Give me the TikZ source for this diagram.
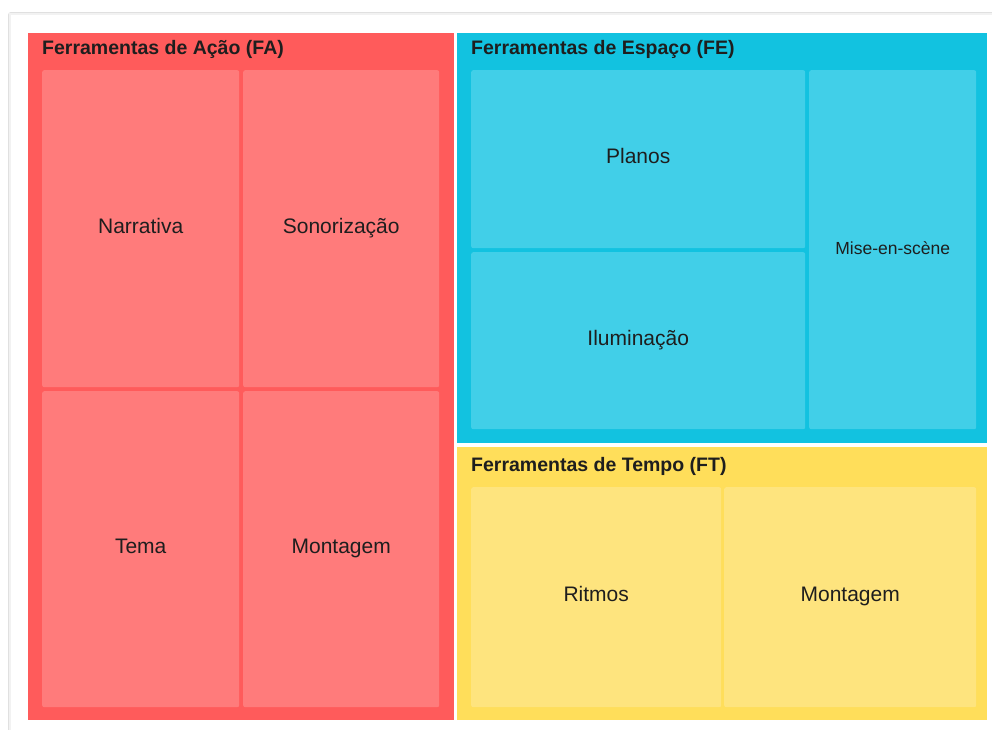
\documentclass[tikz,border=0pt]{standalone}
\usepackage{fontspec}
\setmainfont{Liberation Sans}
\usetikzlibrary{shadows,positioning}
\definecolor{redG}{RGB}{255,91,91}
\definecolor{redC}{RGB}{255,123,123}
\definecolor{cyanG}{RGB}{18,194,224}
\definecolor{cyanC}{RGB}{65,207,232}
\definecolor{yelG}{RGB}{255,222,90}
\definecolor{yelC}{RGB}{254,228,126}
\definecolor{txt}{RGB}{30,30,30}
\tikzset{
  grp/.style={rectangle, inner sep=0pt, anchor=north west},
  cell/.style={rectangle, inner sep=0pt, anchor=north west, rounded corners=2pt, text=txt,
    font=\fontsize{21}{24}\selectfont, text height=15pt, text depth=6pt},
  smallcell/.style={font=\fontsize{17.5}{20}\selectfont, text height=13pt, text depth=3pt},
  grptitle/.style={anchor=base west, inner sep=0pt, text=txt, font=\bfseries\fontsize{19.5}{22}\selectfont},
}
\begin{document}
\begin{tikzpicture}[x=1pt,y=-1pt]
\useasboundingbox (0,0) rectangle (992,729);
\fill[white] (0,0) rectangle (992,729);
% card
\fill[black!12, rounded corners=3pt] (8,12) rectangle (1010,750);
\fill[black!5] (9,13) rectangle (1010,750);
\fill[white] (11,15) rectangle (1010,750);
% groups
\node[grp, fill=redG, minimum width=426pt, minimum height=687pt] (fa) at (28,33) {};
\node[grp, fill=cyanG, minimum width=530pt, minimum height=410pt] (fe) at (457,33) {};
\node[grp, fill=yelG, minimum width=530pt, minimum height=273pt] (ft) at (457,447) {};
% titles
\node[grptitle] (fat) at (42,54.5) {Ferramentas de Ação (FA)};
\node[grptitle] (fet) at (471,54.5) {Ferramentas de Espaço (FE)};
\node[grptitle] (ftt) at (471,471.5) {Ferramentas de Tempo (FT)};
% FA cells
\node[cell, fill=redC, minimum width=197pt, minimum height=317pt] (narr) at (42,70) {Narrativa};
\node[cell, fill=redC, minimum width=196pt, minimum height=317pt] (son) at (243,70) {Sonorização};
\node[cell, fill=redC, minimum width=197pt, minimum height=316pt] (tema) at (42,391) {Tema};
\node[cell, fill=redC, minimum width=196pt, minimum height=316pt] (mont) at (243,391) {Montagem};
% FE cells
\node[cell, fill=cyanC, minimum width=334pt, minimum height=178pt] (plan) at (471,70) {Planos};
\node[cell, fill=cyanC, minimum width=334pt, minimum height=177pt] (ilum) at (471,252) {Iluminação};
\node[cell, smallcell, fill=cyanC, minimum width=167pt, minimum height=359pt] (mise) at (809,70) {Mise-en-scène};
% FT cells
\node[cell, fill=yelC, minimum width=250pt, minimum height=220pt] (ritm) at (471,487) {Ritmos};
\node[cell, fill=yelC, minimum width=252pt, minimum height=220pt] (mont2) at (724,487) {Montagem};
\end{tikzpicture}
\end{document}
